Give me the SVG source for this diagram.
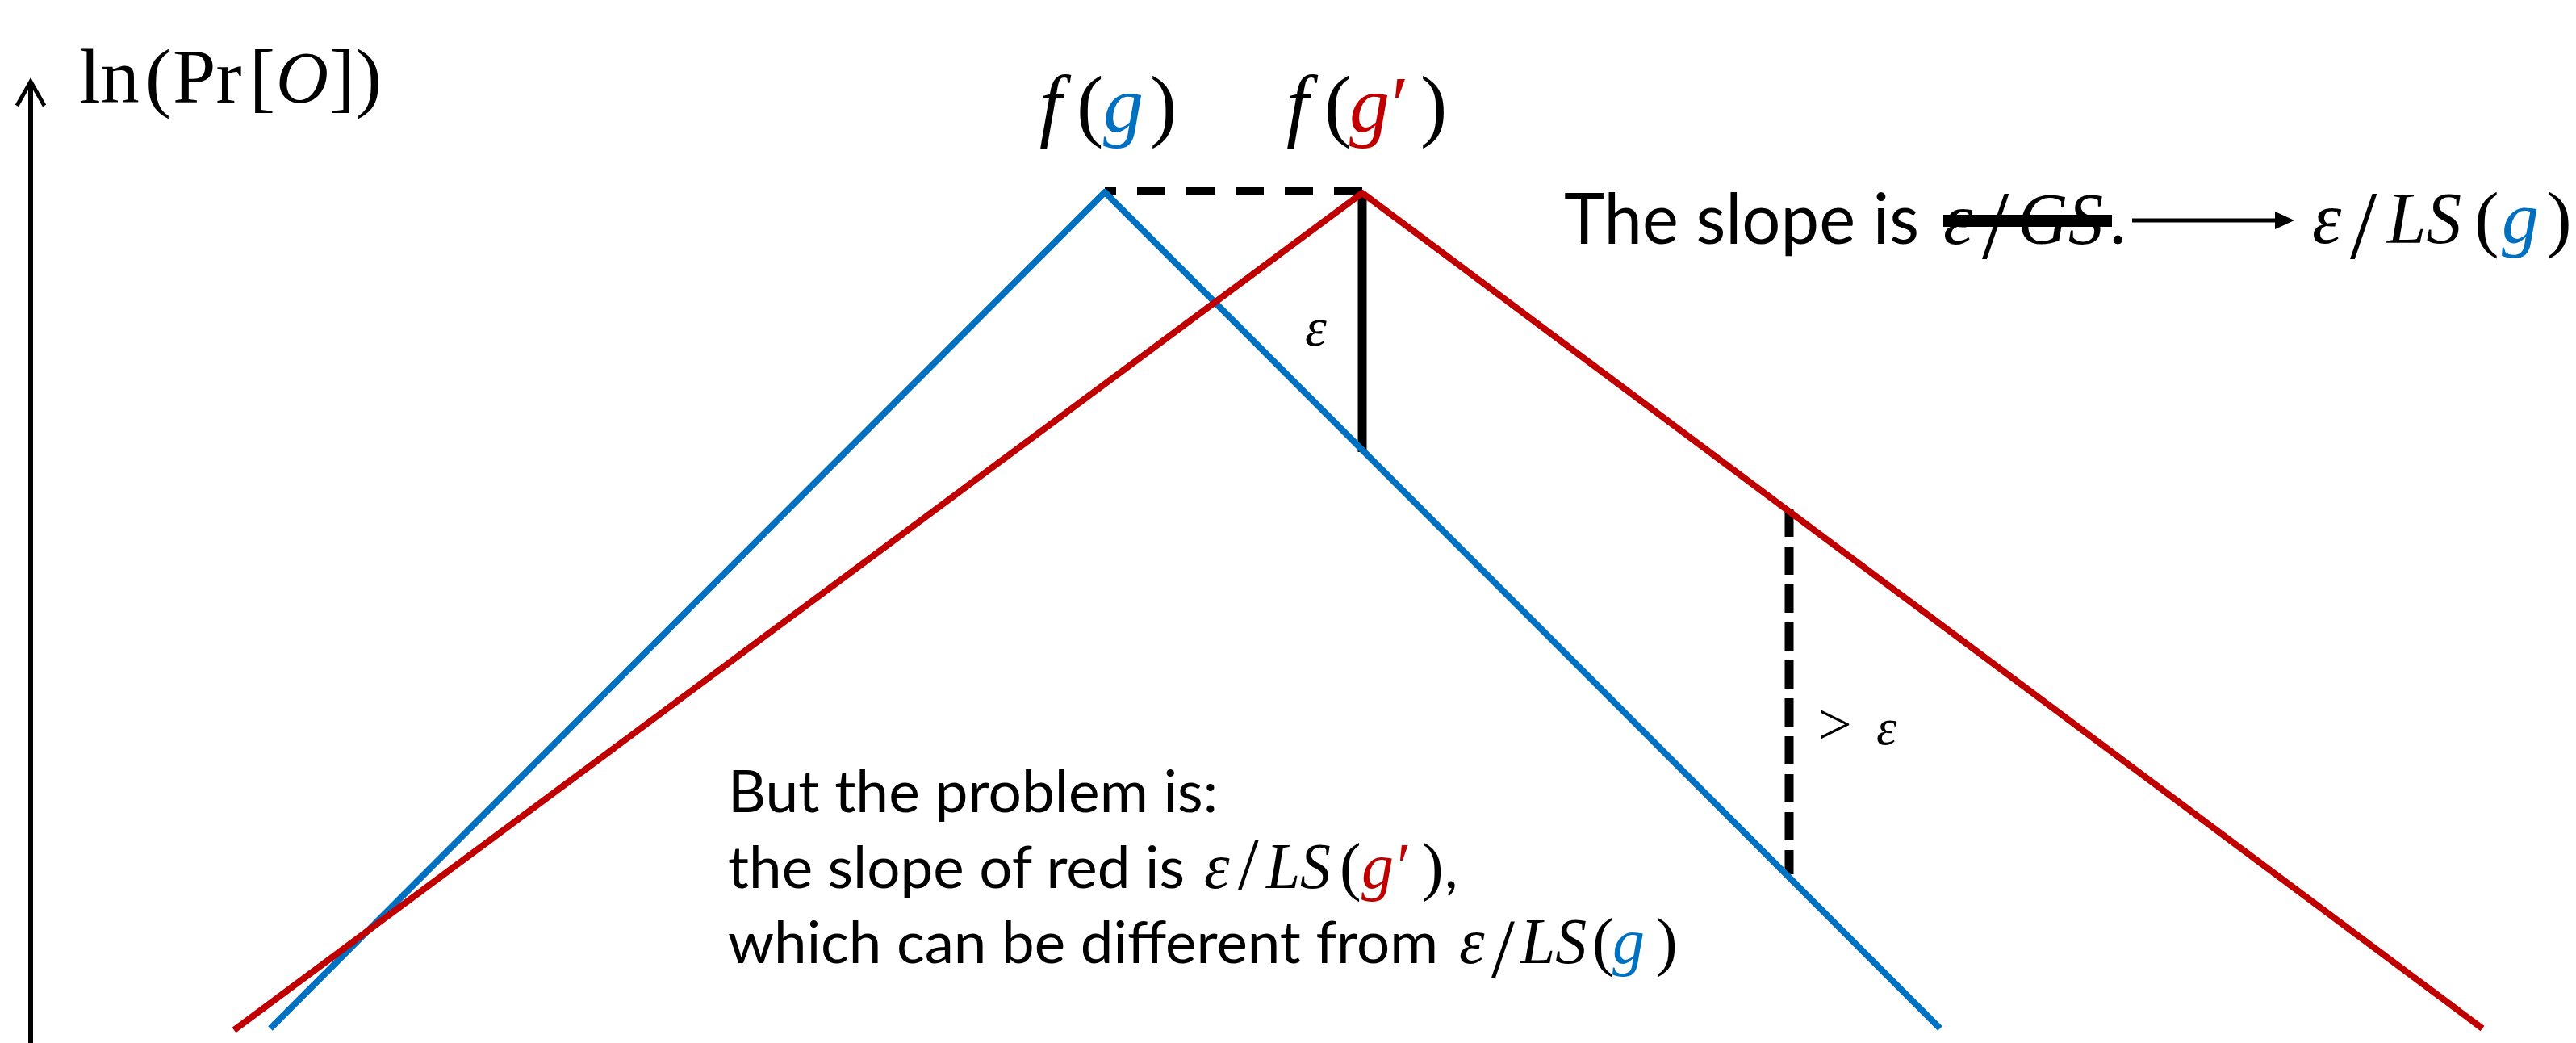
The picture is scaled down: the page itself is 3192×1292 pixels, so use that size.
<svg xmlns="http://www.w3.org/2000/svg" width="3192" height="1292" viewBox="0 0 3192 1292">
<style>
.m{font-family:"Liberation Serif","DejaVu Serif",serif;fill:#000}
.i{font-style:italic}
.t{font-family:Lato,"Liberation Sans","DejaVu Sans",sans-serif;fill:#000}
.b{fill:#0070C0}
.r{fill:#C00000}
.crv{fill:none;stroke-width:8;stroke-linejoin:round}
.blk{stroke:#000;fill:none}
</style>
<rect width="3192" height="1292" fill="#fff"/>
<g id="axis">
<line class="blk" x1="38" y1="1292" x2="38" y2="102" stroke-width="6"/>
<polyline class="blk" points="21,131 38,101 55,131" stroke-width="5"/>
<g class="m" font-size="96">
<text x="98" y="127">ln</text>
<text x="180" y="127">(</text>
<text x="214" y="127">Pr</text>
<text x="309" y="127">[</text>
<text x="342" y="127" class="i" font-size="90">O</text>
<text x="408" y="127">]</text>
<text x="441" y="127">)</text>
</g>
</g>
<g id="connectors">
<line class="blk" x1="1688" y1="237" x2="1369" y2="237" stroke-width="10" stroke-dasharray="35 26"/>
<line class="blk" x1="1688" y1="240" x2="1688" y2="560" stroke-width="11"/>
<line class="blk" x1="2217" y1="630" x2="2217" y2="1083" stroke-width="11" stroke-dasharray="35 12"/>
<line class="blk" x1="2642" y1="273" x2="2824" y2="273" stroke-width="5"/>
<polygon points="2843,273 2819,262 2819,284" fill="#000"/>
</g>
<g id="blue-curve">
<polyline class="crv" stroke="#0070C0" points="335,1274 1369,238 2404,1274"/>
</g>
<g id="red-curve">
<polyline class="crv" stroke="#C00000" points="290,1276 1688,239 3076,1274"/>
</g>
<g id="peak-labels" class="m" font-size="100">
<text x="1288" y="163" class="i">f</text>
<text x="1334" y="163">(</text>
<text x="1367" y="163" class="i b">g</text>
<text x="1425" y="163">)</text>
<text x="1594" y="163" class="i">f</text>
<text x="1641" y="163">(</text>
<text x="1672" y="163" class="i r">g</text>
<text x="1724" y="163" class="r">′</text>
<text x="1760" y="163">)</text>
</g>
<g id="eps-labels" class="m">
<text x="1617" y="428" font-size="68" class="i">ε</text>
<text x="2253" y="922" font-size="74">&gt;</text>
<text x="2325" y="922" font-size="64" class="i">ε</text>
</g>
<g id="slope-note">
<text class="t" x="1938" y="302" font-size="87" textLength="440" lengthAdjust="spacingAndGlyphs">The slope is</text>
<g class="m">
<text x="2408" y="302" font-size="92" class="i">ε</text>
<text x="2456" y="320" font-size="120">/</text>
<text x="2500" y="302" font-size="92" class="i" textLength="106" lengthAdjust="spacingAndGlyphs">GS</text>
</g>
<text class="t" x="2614" y="302" font-size="87">.</text>
<rect x="2408" y="266" width="209" height="15" fill="#000"/>
<g class="m" font-size="92">
<text x="2865" y="301" class="i">ε</text>
<text x="2912" y="320" font-size="120">/</text>
<text x="2958" y="301" class="i" textLength="92" lengthAdjust="spacingAndGlyphs">LS</text>
<text x="3066" y="301">(</text>
<text x="3100" y="301" class="i b">g</text>
<text x="3156" y="301">)</text>
</g>
</g>
<g id="problem-note">
<text class="t" x="902" y="1006" font-size="72" textLength="607" lengthAdjust="spacingAndGlyphs">But the problem is:</text>
<text class="t" x="902" y="1100" font-size="72" textLength="566" lengthAdjust="spacingAndGlyphs">the slope of red is</text>
<g class="m" font-size="80">
<text x="1492" y="1100" class="i">ε</text>
<text x="1534" y="1101" font-size="92">/</text>
<text x="1569" y="1100" class="i" textLength="80" lengthAdjust="spacingAndGlyphs">LS</text>
<text x="1660" y="1100">(</text>
<text x="1687" y="1100" class="i r">g</text>
<text x="1731" y="1100" class="r">′</text>
<text x="1762" y="1100">)</text>
</g>
<text class="t" x="1790" y="1100" font-size="72">,</text>
<text class="t" x="902" y="1193" font-size="72" textLength="880" lengthAdjust="spacingAndGlyphs">which can be different from</text>
<g class="m" font-size="80">
<text x="1808" y="1193" class="i">ε</text>
<text x="1848" y="1210" font-size="104">/</text>
<text x="1884" y="1193" class="i" textLength="82" lengthAdjust="spacingAndGlyphs">LS</text>
<text x="1973" y="1193">(</text>
<text x="1998" y="1193" class="i b">g</text>
<text x="2052" y="1193">)</text>
</g>
</g>
</svg>
